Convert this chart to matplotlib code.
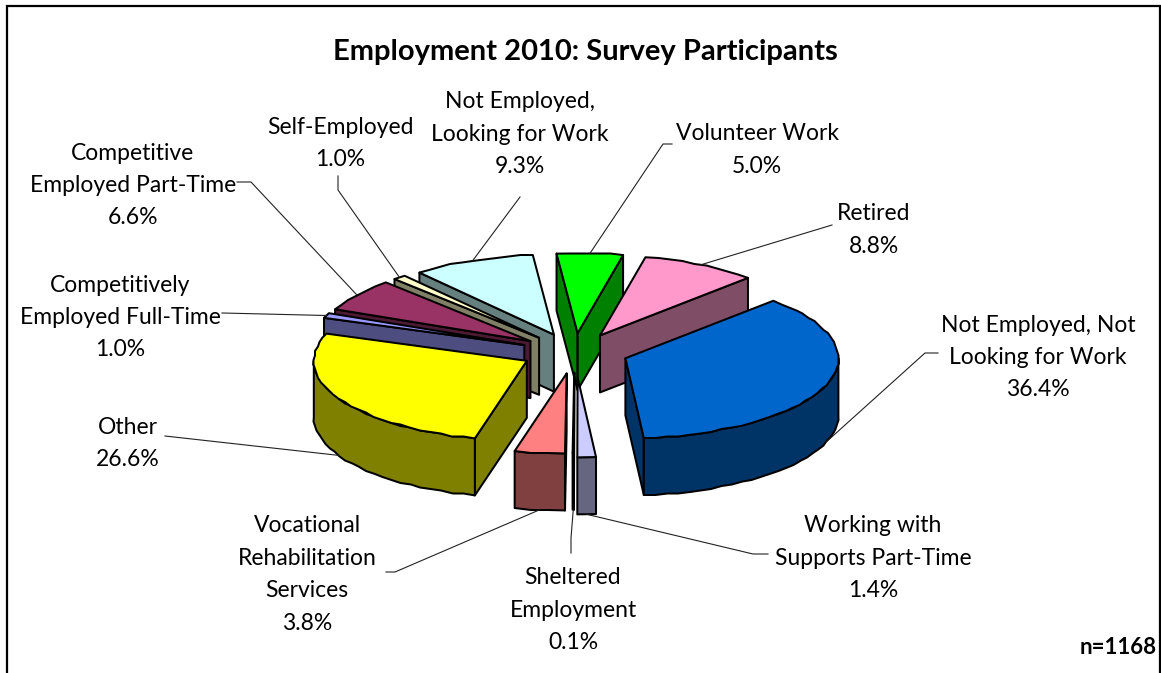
import numpy as np
import matplotlib
matplotlib.use("Agg")
import matplotlib.pyplot as plt

# Employment categories, clockwise from the first slice
categories = [
    ["Not Employed, Not", "Looking for Work"],
    ["Working with", "Supports Part-Time"],
    ["Sheltered", "Employment"],
    ["Vocational", "Rehabilitation", "Services"],
    ["Other"],
    ["Competitively", "Employed Full-Time"],
    ["Competitive", "Employed Part-Time"],
    ["Self-Employed"],
    ["Not Employed,", "Looking for Work"],
    ["Volunteer Work"],
    ["Retired"],
]
percent = [36.4, 1.4, 0.1, 3.8, 26.6, 1.0, 6.6, 1.0, 9.3, 5.0, 8.8]
top_colors = ["#0066CC", "#CCCCFF", "#FFCC99", "#FF8080", "#FFFF00", "#9999FF",
              "#993366", "#FFFFCC", "#CCFFFF", "#00FF00", "#FF99CC"]
explode = [1.0, 1.35, 1.1, 1.15, 1.0, 1.0, 1.0, 1.0, 1.0, 1.0, 1.0]

# label centre x, first line y, and where the leader leaves the label
label_x = [1038, 873, 573, 307, 128, 120, 133, 340, 520, 757, 874]
label_y = [325, 526, 578, 526, 427, 285, 153, 127, 102, 134, 214]
leader_end = [[(925, 353), (938, 353)], [(753, 554), (768, 554)],
              [(571, 538), (571, 553)], [(395, 572), (386, 572)],
              [(165, 436)], [(222, 313)], [(251, 182), (237, 182)],
              [(338, 190), (338, 176)], [(520, 197)],
              [(663, 144), (672, 144)], [(832, 225)]]

W, H = 1161, 673
CX, CY = 574.5, 352   # pie centre
RX, RY = 213, 80      # top face ellipse
EX, EY = 54, 18.8     # how far the slices are pulled out
DEPTH = 57
START = 44            # first slice angle, clockwise from 12 o'clock
LINE_STEP = 32.4
SNAP = 1.5            # rim points sit on a coarse pixel grid, gives the rough edge


def darker(color):
    return tuple(c * 0.5 for c in matplotlib.colors.to_rgb(color))


def rim(ox, oy, ang, dz=0):
    a = np.radians(ang)
    return ox + RX * np.sin(a), oy - RY * np.cos(a) + dz


def rough_rim(ox, oy, a, b):
    t = np.linspace(a, b, max(int((b - a) / 3), 2))
    x, y = rim(ox, oy, t)
    x[1:-1] = np.round(x[1:-1] / SNAP) * SNAP
    y[1:-1] = np.round(y[1:-1] / SNAP) * SNAP
    return x, y


def draw_slice(ax, a, b, color, push):
    mid = np.radians((a + b) / 2)
    ox = CX + EX * push * np.sin(mid)
    oy = CY - EY * push * np.cos(mid)
    side = darker(color)
    style = dict(edgecolor="black", linewidth=1.45, joinstyle="round")

    # radial walls, only the ones turned towards the viewer
    for ang, visible in [(a, np.sin(np.radians(a)) < 0), (b, np.sin(np.radians(b)) > 0)]:
        if visible:
            x, y = rim(ox, oy, ang)
            ax.fill([ox, x, x, ox], [oy, y, y + DEPTH, oy + DEPTH], facecolor=side, **style)

    # outer wall on the front half of the rim
    lo, hi = max(a, 90), min(b, 270)
    if hi > lo:
        x, y = rough_rim(ox, oy, lo, hi)
        x2, y2 = rough_rim(ox, oy + DEPTH, lo, hi)
        ax.fill(np.r_[x, x2[::-1]], np.r_[y, y2[::-1]], facecolor=side, **style)

    # top face
    x, y = rough_rim(ox, oy, a, b)
    ax.fill(np.r_[ox, x], np.r_[oy, y], facecolor=color, **style)
    return ox, oy


plt.rcParams["font.family"] = ["Lato", "DejaVu Sans"]
fig = plt.figure(figsize=(W / 100, H / 100), dpi=100)
ax = fig.add_axes([0, 0, 1, 1])
ax.set_xlim(0, W)
ax.set_ylim(H, 0)
ax.axis("off")

# chart border, runs off the bottom
ax.plot([6.5, 6.5, 1160, 1160], [H + 5, 6, 6, H + 5], color="black", lw=1.6, solid_joinstyle="miter")

# slice angles from the percentages
shares = np.array(percent) / sum(percent) * 360
starts = START + np.r_[0, np.cumsum(shares)[:-1]]
ends = starts + shares
mids = (starts + ends) / 2

# back slices first so the front ones cover them
order = np.argsort(-np.cos(np.radians(mids)))
centres = {}
for i in order:
    centres[i] = draw_slice(ax, starts[i], ends[i], top_colors[i], explode[i])

# leaders and labels
for i in range(len(percent)):
    ox, oy = centres[i]
    m = mids[i] % 360
    x0, y0 = rim(ox, oy, m, DEPTH if 90 < m < 270 else 0)
    pts = [(x0, y0)] + leader_end[i]
    ax.plot([p[0] for p in pts], [p[1] for p in pts], color="#222222", lw=0.8, zorder=5)
    lines = categories[i] + [f"{percent[i]:.1f}%"]
    for k, line in enumerate(lines):
        ax.text(label_x[i], label_y[i] + k * LINE_STEP, line, ha="center", va="center",
                fontsize=16.5, color="black", zorder=6)

ax.text(585, 52, "Employment 2010: Survey Participants", ha="center", va="center",
        fontsize=21, fontweight="bold", color="black")
ax.text(1157, 648, "n=1168", ha="right", va="center", fontsize=16, fontweight="bold", color="black")

fig.savefig("out.png", dpi=100, facecolor="white")
